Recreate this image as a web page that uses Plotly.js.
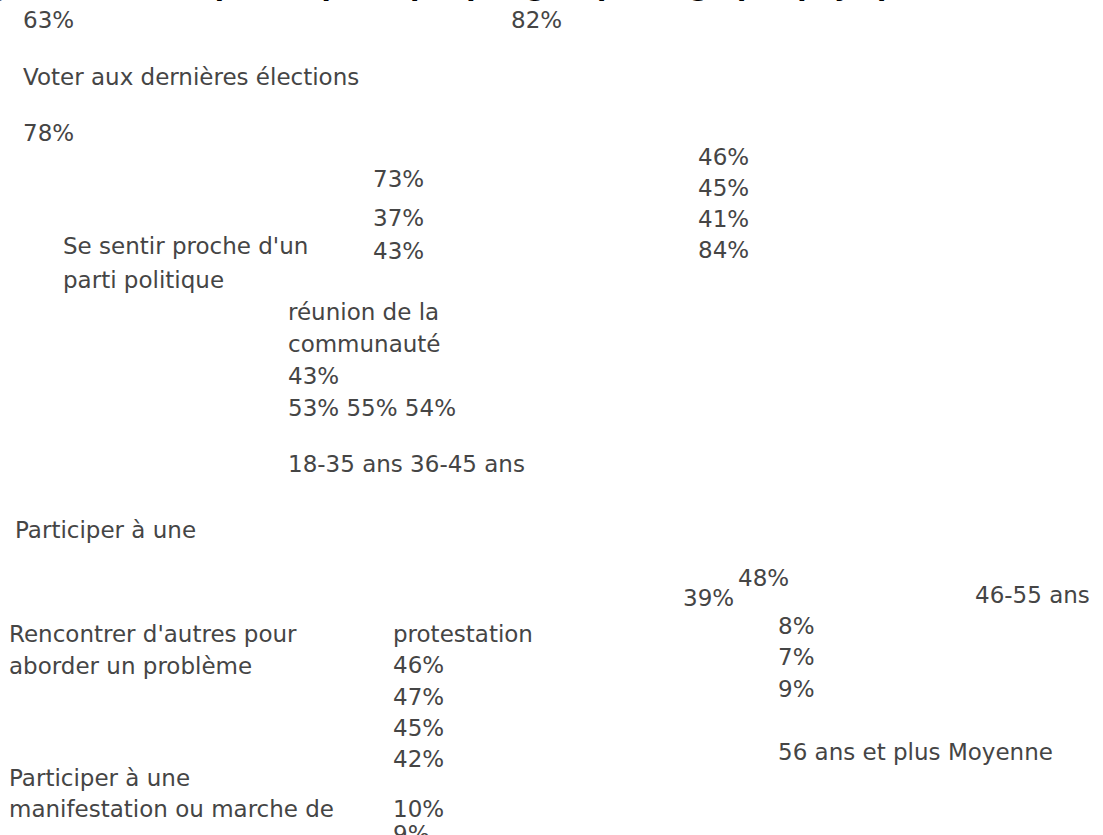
<!DOCTYPE html>
<html>
<head>
<meta charset="utf-8">
<script src="https://cdn.plot.ly/plotly-3.0.1.min.js"></script>
<style>
  html, body { margin: 0; padding: 0; background: #ffffff; overflow: hidden; }
  #chart { width: 1103px; height: 835px; }
</style>
</head>
<body>
<div id="chart"></div>
<script>
// ---------------- DATA ----------------
const titleText = "Figure 3 : Participation politique par groupe d'âge par pays pilotes, en %";

const categories = [
  "Voter aux dernières élections",
  "Se sentir proche d'un parti politique",
  "Participer à une réunion de la communauté",
  "Rencontrer d'autres pour aborder un problème",
  "Participer à une manifestation ou marche de protestation"
];

const series = ["18-35 ans", "36-45 ans", "46-55 ans", "56 ans et plus", "Moyenne"];

const v18_35   = [63, 37, 43, 39, 10];
const v36_45   = [78, 43, 53, 46, 9];
const v46_55   = [82, 46, 55, 47, 8];
const v56plus  = [84, 45, 54, 45, 7];
const vMoyenne = [73, 41, 48, 42, 9];

// ---------------- HELPERS ----------------
const pct = v => v + "%";
const words = (s, a, b) => s.split(" ").slice(a, b).join(" ");

// Text fragments (content derived from the data, placement kept separately)
const fragments = [
  { t: pct(v18_35[0]),                  x: 22,  y: 20 },
  { t: pct(v46_55[0]),                  x: 510, y: 20 },
  { t: categories[0],                   x: 22,  y: 77 },
  { t: pct(v36_45[0]),                  x: 22,  y: 133 },
  { t: pct(v46_55[1]),                  x: 697, y: 157 },
  { t: pct(vMoyenne[0]),                x: 372, y: 179 },
  { t: pct(v56plus[1]),                 x: 697, y: 188 },
  { t: pct(v18_35[1]),                  x: 372, y: 218 },
  { t: pct(vMoyenne[1]),                x: 697, y: 219 },
  { t: words(categories[1], 0, 4),      x: 62,  y: 246 },
  { t: pct(v36_45[1]),                  x: 372, y: 251 },
  { t: pct(v56plus[0]),                 x: 697, y: 250 },
  { t: words(categories[1], 4),         x: 62,  y: 280 },
  { t: words(categories[2], 3, 6),      x: 287, y: 312 },
  { t: words(categories[2], 6),         x: 287, y: 344 },
  { t: pct(v18_35[2]),                  x: 287, y: 376 },
  { t: [v36_45[2], v46_55[2], v56plus[2]].map(pct).join(" "), x: 287, y: 408 },
  { t: series[0] + " " + series[1],     x: 287, y: 464 },
  { t: words(categories[2], 0, 3),      x: 14,  y: 530 },
  { t: pct(vMoyenne[2]),                x: 737, y: 578 },
  { t: pct(v18_35[3]),                  x: 682, y: 598 },
  { t: series[2],                       x: 974, y: 595 },
  { t: words(categories[3], 0, 3),      x: 8,   y: 634 },
  { t: words(categories[4], 7),         x: 392, y: 634 },
  { t: pct(v46_55[4]),                  x: 777, y: 626 },
  { t: words(categories[3], 3),         x: 8,   y: 666 },
  { t: pct(v36_45[3]),                  x: 392, y: 665 },
  { t: pct(v56plus[4]),                 x: 777, y: 657 },
  { t: pct(v46_55[3]),                  x: 392, y: 697 },
  { t: pct(vMoyenne[4]),                x: 777, y: 689 },
  { t: pct(v56plus[3]),                 x: 392, y: 728 },
  { t: pct(vMoyenne[3]),                x: 392, y: 759 },
  { t: series[3] + " " + series[4],     x: 777, y: 752 },
  { t: words(categories[4], 0, 3),      x: 8,   y: 778 },
  { t: words(categories[4], 3, 7),      x: 8,   y: 809 },
  { t: pct(v18_35[4]),                  x: 392, y: 809 },
  { t: pct(v36_45[4]),                  x: 392, y: 834 }
];

const FONT = { family: "DejaVu Sans, Noto Sans, sans-serif", size: 23, color: "#454545" };

const annotations = fragments.map(f => ({
  x: f.x, y: f.y, xref: "x", yref: "y",
  text: f.t, showarrow: false,
  xanchor: "left", yanchor: "middle",
  align: "left", font: FONT, borderpad: 0
}));

// Clipped bold title at the very top (only its descenders peek into view)
annotations.push({
  x: -40 / 1103, y: 1 - 2.5 / 835, xref: "paper", yref: "paper",
  text: "<b>" + titleText + "</b>", showarrow: false,
  xanchor: "left", yanchor: "bottom", borderpad: 0,
  font: { family: "DejaVu Sans, sans-serif", size: 27, color: "#000000" }
});

const layout = {
  width: 1103, height: 835,
  margin: { l: 0, r: 0, t: 0, b: 0 },
  paper_bgcolor: "#ffffff", plot_bgcolor: "#ffffff",
  showlegend: false,
  xaxis: { range: [0, 1103], visible: false, fixedrange: true },
  yaxis: { range: [835, 0], visible: false, fixedrange: true },
  annotations: annotations
};

Plotly.newPlot("chart", [{ x: [], y: [], type: "scatter", mode: "markers", hoverinfo: "skip" }], layout,
  { displayModeBar: false, staticPlot: true });
</script>
</body>
</html>
